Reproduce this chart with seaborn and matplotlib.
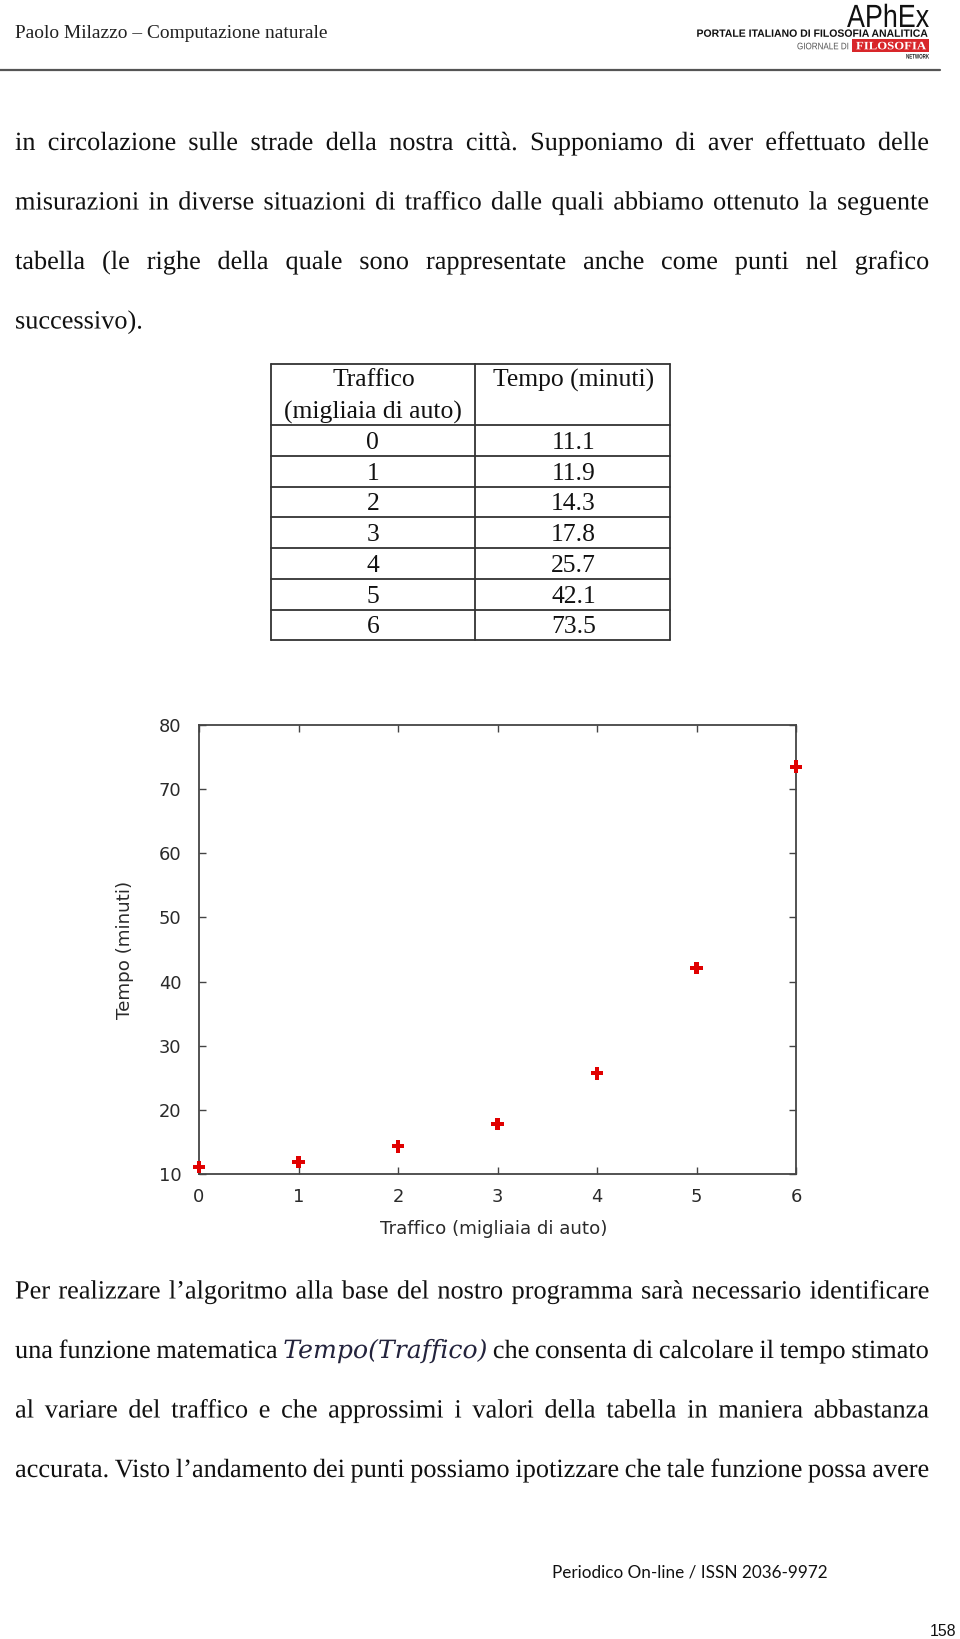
import matplotlib
matplotlib.use("Agg")
import matplotlib.pyplot as plt
from matplotlib.lines import Line2D
from matplotlib.patches import Rectangle
from matplotlib.transforms import Affine2D
from matplotlib import font_manager as fm
from matplotlib import patheffects as pe
import numpy as np
import pandas as pd
import seaborn as sns

# ---------------- data ----------------
traffico = [0, 1, 2, 3, 4, 5, 6]
tempo = [11.1, 11.9, 14.3, 17.8, 25.7, 42.1, 73.5]
x_ticks = [0, 1, 2, 3, 4, 5, 6]
y_ticks = [10, 20, 30, 40, 50, 60, 70, 80]
table_header_1 = ["Traffico", "(migliaia di auto)"]
table_header_2 = "Tempo (minuti)"
x_label = "Traffico (migliaia di auto)"
y_label = "Tempo (minuti)"

header_text = "Paolo Milazzo \u2013 Computazione naturale"
logo_main = "APhEx"
logo_sub = "PORTALE ITALIANO DI FILOSOFIA ANALITICA"
logo_giornale = "GIORNALE DI"
logo_filosofia = "FILOSOFIA"
logo_network = "NETWORK"
lines_top = [
    "in circolazione sulle strade della nostra citt\u00e0. Supponiamo di aver effettuato delle",
    "misurazioni in diverse situazioni di traffico dalle quali abbiamo ottenuto la seguente",
    "tabella (le righe della quale sono rappresentate anche come punti nel grafico",
]
line_top_last = "successivo)."
lines_bottom = [
    "Per realizzare l\u2019algoritmo alla base del nostro programma sar\u00e0 necessario identificare",
    "una funzione matematica @MATH@ che consenta di calcolare il tempo stimato",
    "al variare del traffico e che approssimi i valori della tabella in maniera abbastanza",
    "accurata. Visto l\u2019andamento dei punti possiamo ipotizzare che tale funzione possa avere",
]
math_text = "Tempo(Traffico)"
footer_text = "Periodico On-line / ISSN 2036-9972"
page_number = "158"

# ---------------- setup ----------------
W, H = 960, 1639
PX_PER_PT = 100 / 72
sns.set_theme(style="white")
plt.rcParams["font.family"] = ["DejaVu Sans"]

fig = plt.figure(figsize=(W / 100, H / 100), dpi=100)
fig.patch.set_facecolor("white")
renderer = fig.canvas.get_renderer()


def has_font(name):
    try:
        fm.findfont(fm.FontProperties(family=name), fallback_to_default=False)
        return True
    except Exception:
        return False


SERIF = "Liberation Serif"
SANS = "Liberation Sans"
FOOT = "Lato" if has_font("Lato") else "Open Sans"


class Squeeze(pe.AbstractPathEffect):
    """Draw text glyphs as outlines (exact baselines), optionally rescaled."""

    def __init__(self, sx=1.0, sy=1.0):
        super().__init__()
        self.sx = sx
        self.sy = sy

    def draw_path(self, renderer, gc, tpath, affine, rgbFace=None):
        renderer.draw_path(gc, tpath, Affine2D().scale(self.sx, self.sy) + affine, rgbFace)


def fx(x):
    return x / W


def fy(y):
    return 1 - y / H


def measure(s, **kw):
    t = fig.text(0, 0, s, **kw)
    w = t.get_window_extent(renderer).width
    t.remove()
    return w


def fit(s, width, **kw):
    return 20 * width / measure(s, fontsize=20, **kw)


def logo_text(s, x0, x1, y_base, cap_px, family, cap_ratio, weight="normal",
              color="#111111", k=1.0):
    size = cap_px / cap_ratio / PX_PER_PT / k
    natural = measure(s, fontsize=size, family=family, weight=weight)
    sx = (x1 - x0) / natural
    fig.text(fx(x0), fy(y_base), s, fontsize=size, family=family, weight=weight,
             color=color, ha="left", va="baseline", path_effects=[Squeeze(sx, k)])


def justify(words, x0, x1, y, size, color="#111111", justify_line=True):
    items = []
    for w in words:
        if w == "@MATH@":
            kw = dict(family="DejaVu Serif", style="italic", fontsize=math_size, color="#23233c")
            items.append((math_text, kw))
        else:
            items.append((w, dict(family=SERIF, fontsize=size, color=color)))
    widths = [measure(s, **kw) for s, kw in items]
    if justify_line and len(items) > 1:
        gap = (x1 - x0 - sum(widths)) / (len(items) - 1)
    else:
        gap = 0.25 * size * PX_PER_PT
    x = x0
    for (s, kw), wd in zip(items, widths):
        fig.text(fx(x), fy(y), s, ha="left", va="baseline",
                 path_effects=[Squeeze()], **kw)
        x += wd + gap


# ---------------- header ----------------
hs = fit(header_text, 312, family=SERIF)
fig.text(fx(15), fy(38.5), header_text, family=SERIF, fontsize=hs, color="#222222",
         ha="left", va="baseline")

logo_text(logo_main, 847, 929, 27, 23, SANS, 0.716, color="#111111", k=23 / 12)
logo_text(logo_sub, 696.5, 929, 36.8, 7.6, SANS, 0.716, weight="bold",
          color="#111111", k=1.9)
logo_text(logo_giornale, 797, 849, 49.3, 6.8, SANS, 0.716, color="#555555", k=1.5)
fig.add_artist(Rectangle((fx(852), fy(51.5)), (929 - 852) / W, 12.8 / H,
                         transform=fig.transFigure, facecolor="#d8262a", edgecolor="none"))
logo_text(logo_filosofia, 856, 926, 49.3, 7.5, SERIF, 0.662, weight="bold",
          color="white", k=1.3)
logo_text(logo_network, 906, 929, 58.6, 4.8, SANS, 0.716, weight="bold", color="#222222")

fig.add_artist(Line2D([fx(0), fx(940)], [fy(70), fy(70)], transform=fig.transFigure,
                      color="#555555", lw=1.6))

# ---------------- body text ----------------
body_size = fit(line_top_last, 127.6, family=SERIF)
math_size = fit(math_text, 204, family="DejaVu Serif", style="italic")

base_top = [150, 209.5, 269]
for txt, yb in zip(lines_top, base_top):
    justify(txt.split(), 15, 929, yb, body_size)
justify([line_top_last], 15, 929, 328.5, body_size, justify_line=False)

base_bot = [1298.5, 1358, 1417.5, 1477]
for txt, yb in zip(lines_bottom, base_bot):
    justify(txt.split(), 15, 929, yb, body_size)

# ---------------- table ----------------
tab_size = fit(table_header_1[1], 179, family=SERIF)
tab_px = tab_size * PX_PER_PT
t_left, t_mid, t_right = 270.7, 475.0, 670.0
t_top, t_head = 364.3, 425.0
row_h = (640.3 - t_head) / len(traffico)
t_bottom = t_head + row_h * len(traffico)
lc = "#333333"
lw = 1.3
ys = [t_top, t_head] + [t_head + row_h * (i + 1) for i in range(len(traffico))]
for yy in ys:
    fig.add_artist(Line2D([fx(t_left), fx(t_right)], [fy(yy), fy(yy)],
                          transform=fig.transFigure, color=lc, lw=lw))
for xx in [t_left, t_mid, t_right]:
    fig.add_artist(Line2D([fx(xx), fx(xx)], [fy(t_top), fy(t_bottom)],
                          transform=fig.transFigure, color=lc, lw=lw))
c1 = (t_left + t_mid) / 2
c2 = (t_mid + t_right) / 2
fig.text(fx(c1 + 1), fy(386.5), table_header_1[0], family=SERIF, fontsize=tab_size,
         color="#111111", ha="center", va="baseline")
fig.text(fx(c1), fy(418.5), table_header_1[1], family=SERIF, fontsize=tab_size,
         color="#111111", ha="center", va="baseline")
fig.text(fx(c2 + 1), fy(387), table_header_2, family=SERIF, fontsize=tab_size,
         color="#111111", ha="center", va="baseline")
for i, (a, b) in enumerate(zip(traffico, tempo)):
    yc = t_head + row_h * (i + 0.5)
    yb = yc + 0.33 * tab_px
    fig.text(fx(c1), fy(yb), f"{a}", family=SERIF, fontsize=tab_size, color="#111111",
             ha="center", va="baseline")
    fig.text(fx(c2 + 1), fy(yb), f"{b:.1f}", family=SERIF, fontsize=tab_size,
             color="#111111", ha="center", va="baseline")

# ---------------- chart ----------------
ax_l, ax_r, ax_t, ax_b = 199, 796, 725, 1174
ax = fig.add_axes([fx(ax_l), fy(ax_b), (ax_r - ax_l) / W, (ax_b - ax_t) / H])
ax.set_facecolor("white")
df = pd.DataFrame({"traffico": traffico, "tempo": tempo})
sns.scatterplot(data=df, x="traffico", y="tempo", ax=ax, marker="P", s=80,
                color="#e00000", edgecolor="none", linewidth=0, clip_on=False,
                zorder=5, legend=False)
ax.set_xlim(0, 6)
ax.set_ylim(10, 80)
ax.set_xticks(x_ticks)
ax.set_yticks(y_ticks)
ax.grid(False)
for sp in ax.spines.values():
    sp.set_visible(True)
    sp.set_color("#444444")
    sp.set_linewidth(1.3)

tick_size = fit("80", 22.7, family="DejaVu Sans")
ax.tick_params(axis="both", direction="in", length=5, width=1.0, color="#444444",
               top=True, right=True, bottom=True, left=True,
               labelsize=tick_size, labelcolor="#2a2a2a")
ax.tick_params(axis="y", pad=12.5)
ax.tick_params(axis="x", pad=10)

lab_size = fit(x_label, 227, family="DejaVu Sans")
ax.set_xlabel(x_label, fontsize=lab_size, color="#2a2a2a")
ax.set_ylabel(y_label, fontsize=lab_size, color="#2a2a2a")
ax.xaxis.set_label_coords((493.5 - ax_l) / (ax_r - ax_l), -(1229 - ax_b) / (ax_b - ax_t))
ax.xaxis.label.set_va("center")
ax.yaxis.set_label_coords(-(ax_l - 124.5) / (ax_r - ax_l), 0.5)
ax.yaxis.label.set_va("center")

# ---------------- footer ----------------
fs = fit(footer_text, 275, family=FOOT)
fig.text(fx(551.7), fy(1573), footer_text, family=FOOT, fontsize=fs, color="#111111",
         ha="left", va="center")
ps = fit(page_number, 26.6, family=SANS)
fig.text(fx(956.7), fy(1631), page_number, family=SANS, fontsize=ps,
         color="#111111", ha="right", va="center")

fig.savefig("out.png", dpi=100, facecolor="white")
